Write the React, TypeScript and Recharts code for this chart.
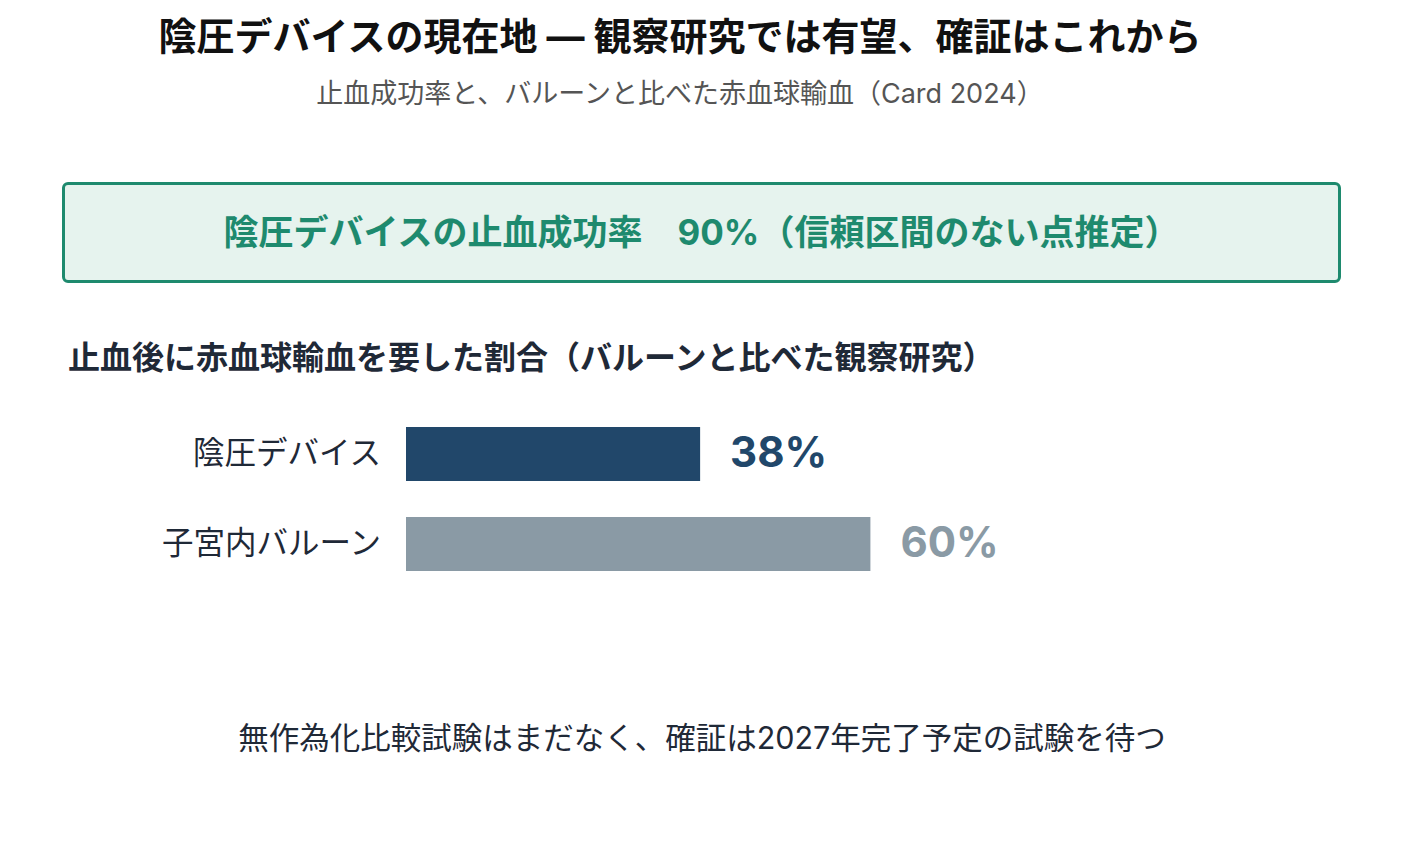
import { BarChart, Bar, XAxis, YAxis, Cell, LabelList } from "recharts";

const categories = ["陰圧デバイス", "子宮内バルーン"];
const transfusionPct = [38, 60];
const barColors = ["#21476a", "#8a9aa5"];

const title = "陰圧デバイスの現在地 — 観察研究では有望、確証はこれから";
const subtitle = "止血成功率と、バルーンと比べた赤血球輸血（Card 2024）";
const highlight = "陰圧デバイスの止血成功率　90%（信頼区間のない点推定）";
const sectionLabel = "止血後に赤血球輸血を要した割合（バルーンと比べた観察研究）";
const footnote = "無作為化比較試験はまだなく、確証は2027年完了予定の試験を待つ";

const data = categories.map((name, i) => ({ name, value: transfusionPct[i] }));

const FONT = "Inter, 'Noto Sans CJK JP', sans-serif";

const ValueLabel = (props: any) => {
    const { x, y, width, height, value, index } = props;
    return (
        <text
            x={x + width + 30}
            y={y + height / 2 - 3}
            dominantBaseline="central"
            fontSize={42}
            fontWeight={700}
            fontFamily={FONT}
            fill={barColors[index]}
        >
            {`${value}%`}
        </text>
    );
};

const CategoryTick = (props: any) => {
    const { y, payload } = props;
    return (
        <text
            x={381}
            y={y - 2}
            textAnchor="end"
            dominantBaseline="central"
            fontSize={31.5}
            fontFamily={FONT}
            fill="#1f2937"
        >
            {payload.value}
        </text>
    );
};

export default function App() {
    return (
        <div
            style={{
                position: "absolute",
                left: 0,
                top: 0,
                width: 1404,
                height: 859,
                background: "#fff",
                fontFamily: FONT,
            }}
        >
            <div
                style={{
                    position: "absolute",
                    top: 6,
                    left: 0,
                    width: 1360,
                    textAlign: "center",
                    fontSize: 38,
                    fontWeight: 700,
                    color: "#111",
                }}
            >
                {title}
            </div>
            <div
                style={{
                    position: "absolute",
                    top: 72,
                    left: 0,
                    width: 1360,
                    textAlign: "center",
                    fontSize: 27,
                    color: "#555",
                }}
            >
                {subtitle}
            </div>
            <div
                style={{
                    position: "absolute",
                    left: 62,
                    top: 182,
                    width: 1279,
                    height: 101,
                    boxSizing: "border-box",
                    border: "3px solid #1e8a6e",
                    borderRadius: 6,
                    background: "#e6f3ee",
                    display: "flex",
                    alignItems: "center",
                    justifyContent: "center",
                    paddingBottom: 6,
                    fontSize: 35,
                    fontWeight: 700,
                    color: "#1e8a6e",
                }}
            >
                {highlight}
            </div>
            <div
                style={{
                    position: "absolute",
                    left: 68,
                    top: 332,
                    fontSize: 32,
                    fontWeight: 700,
                    color: "#1f2937",
                }}
            >
                {sectionLabel}
            </div>
            <div style={{ position: "absolute", left: 0, top: 400 }}>
                <BarChart
                    width={1404}
                    height={200}
                    data={data}
                    layout="vertical"
                    margin={{ top: 9, right: 224, bottom: 11, left: 0 }}
                >
                    <XAxis type="number" domain={[0, 100]} hide />
                    <YAxis
                        type="category"
                        dataKey="name"
                        width={406}
                        axisLine={false}
                        tickLine={false}
                        tick={<CategoryTick />}
                    />
                    <Bar dataKey="value" barSize={54} isAnimationActive={false}>
                        {data.map((d, i) => (
                            <Cell key={d.name} fill={barColors[i]} />
                        ))}
                        <LabelList dataKey="value" content={<ValueLabel />} />
                    </Bar>
                </BarChart>
            </div>
            <div
                style={{
                    position: "absolute",
                    top: 714,
                    left: 0,
                    width: 1404,
                    textAlign: "center",
                    fontSize: 30.5,
                    color: "#1f2937",
                }}
            >
                {footnote}
            </div>
        </div>
    );
}
